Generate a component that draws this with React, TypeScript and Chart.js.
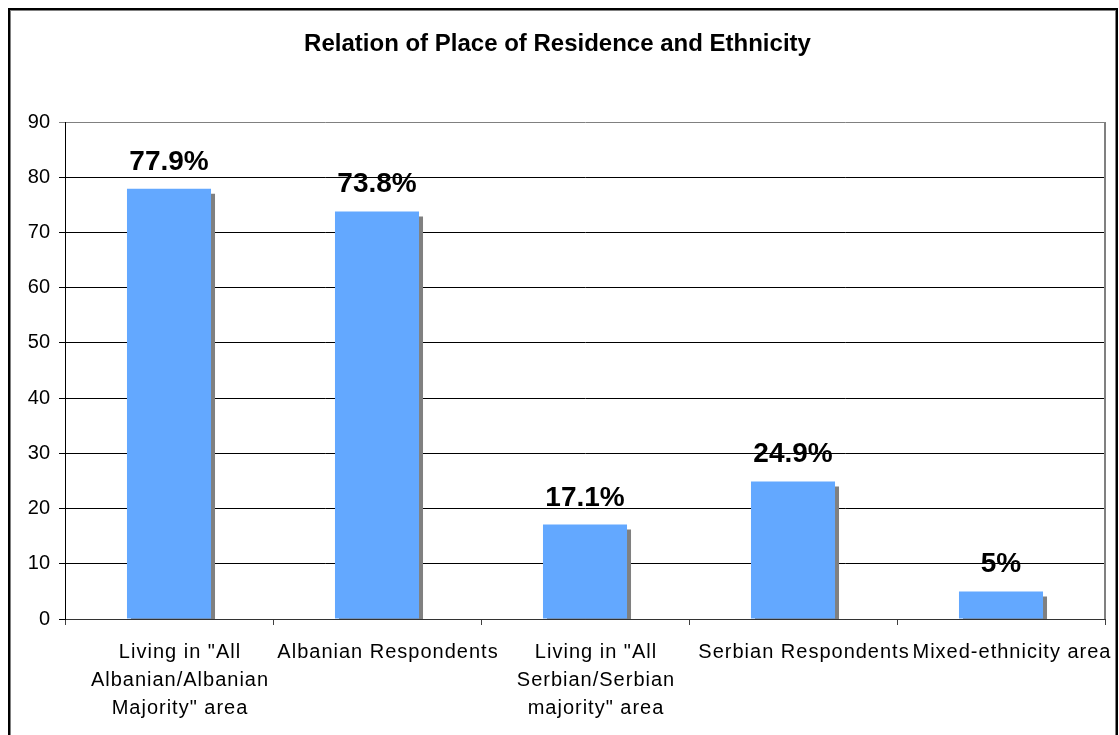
import React, { useEffect, useRef } from "react";
import { Chart, registerables } from "chart.js";

Chart.register(...registerables);

// ---- data ----
const chartTitle = "Relation of Place of Residence and Ethnicity";
const categories: (string | string[])[] = [
  ['Living in "All', "Albanian/Albanian", 'Majority" area'],
  "Albanian Respondents",
  ['Living in "All', "Serbian/Serbian", 'majority" area'],
  "Serbian Respondents",
  "Mixed-ethnicity area",
];
const values = [77.9, 73.8, 17.1, 24.9, 5];
const valueLabels = ["77.9%", "73.8%", "17.1%", "24.9%", "5%"];
const yMin = 0;
const yMax = 90;
const yStep = 10;

const FONT = "'Liberation Sans', Arial, sans-serif";

const barExtras = {
  id: "barExtras",
  beforeDraw(chart: any) {
    const s: any = chart.scales.x;
    if (s && !s.__ls) {
      const orig = s.drawLabels;
      s.drawLabels = function (area: any) {
        const ctx = this.ctx;
        const prev = ctx.letterSpacing;
        ctx.letterSpacing = "1px";
        orig.call(this, area);
        ctx.letterSpacing = prev || "0px";
      };
      s.__ls = true;
    }
  },
  beforeDatasetsDraw(chart: any) {
    const ctx = chart.ctx;
    ctx.save();
    ctx.shadowColor = "#808080";
    ctx.shadowOffsetX = 4;
    ctx.shadowOffsetY = 5;
    ctx.shadowBlur = 0;
  },
  afterDatasetsDraw(chart: any) {
    const ctx = chart.ctx;
    ctx.restore();
    ctx.save();
    ctx.font = `bold 28px ${FONT}`;
    ctx.fillStyle = "#000";
    ctx.textAlign = "center";
    ctx.textBaseline = "alphabetic";
    const meta = chart.getDatasetMeta(0);
    meta.data.forEach((bar: any, i: number) => {
      ctx.fillText(valueLabels[i], bar.x, bar.y - 19);
    });
    ctx.restore();
  },
  afterDraw(chart: any) {
    const { ctx, chartArea } = chart;
    ctx.save();
    ctx.strokeStyle = "#808080";
    ctx.lineWidth = 2;
    ctx.beginPath();
    ctx.moveTo(chartArea.right, chartArea.top);
    ctx.lineTo(chartArea.right, chartArea.bottom);
    ctx.stroke();
    ctx.restore();
  },
};

export default function App() {
  const ref = useRef<HTMLCanvasElement>(null);

  useEffect(() => {
    if (!ref.current) return;
    const chart = new Chart(ref.current, {
      type: "bar",
      data: {
        labels: categories,
        datasets: [
          {
            data: values,
            backgroundColor: "#63a8ff",
            borderWidth: 0,
            barPercentage: 0.404,
            categoryPercentage: 1,
            clip: 0,
          } as any,
        ],
      },
      options: {
        responsive: false,
        animation: false,
        layout: { padding: { top: 0, left: 0, right: 11, bottom: 0 } },
        plugins: {
          legend: { display: false },
          tooltip: { enabled: false },
          title: {
            display: true,
            text: chartTitle,
            color: "#000",
            font: { family: FONT, size: 24, weight: "bold", lineHeight: 1.2 },
            padding: { top: 20, bottom: 63.2 },
          },
        },
        scales: {
          x: {
            offset: true,
            grid: {
              offset: true,
              drawOnChartArea: false,
              drawTicks: true,
              tickLength: 6,
              color: "#404040",
            },
            border: { display: true, color: "#333", width: 1 },
            ticks: {
              color: "#000",
              font: { family: FONT, size: 20, lineHeight: 1.4 },
              padding: 13,
              labelOffset: 11,
              autoSkip: false,
              maxRotation: 0,
              minRotation: 0,
            },
            afterFit: (scale: any) => {
              scale.height = 116;
            },
          },
          y: {
            min: yMin,
            max: yMax,
            ticks: {
              stepSize: yStep,
              color: "#000",
              font: { family: FONT, size: 20 },
              padding: 9,
            },
            grid: {
              color: (c: any) => (c.tick && c.tick.value === yMax ? "#808080" : "#000"),
              lineWidth: 1,
              tickLength: 6,
              drawTicks: true,
            },
            border: { display: true, color: "#000", width: 1 },
            afterFit: (scale: any) => {
              scale.width = 55;
            },
          },
        },
      } as any,
      plugins: [barExtras],
    });
    return () => chart.destroy();
  }, []);

  return (
    <div
      style={{
        position: "fixed",
        left: 8,
        top: 8,
        width: 1110,
        height: 740,
        boxSizing: "border-box",
        border: "2px solid #000",
        borderBottom: "none",
        boxShadow: "inset 1px 1px 0 #808080, inset -1px 0 0 #808080",
        background: "#fff",
      }}
    >
      <canvas
        ref={ref}
        width={1106}
        height={725}
        style={{ display: "block", width: 1106, height: 725 }}
      />
    </div>
  );
}
